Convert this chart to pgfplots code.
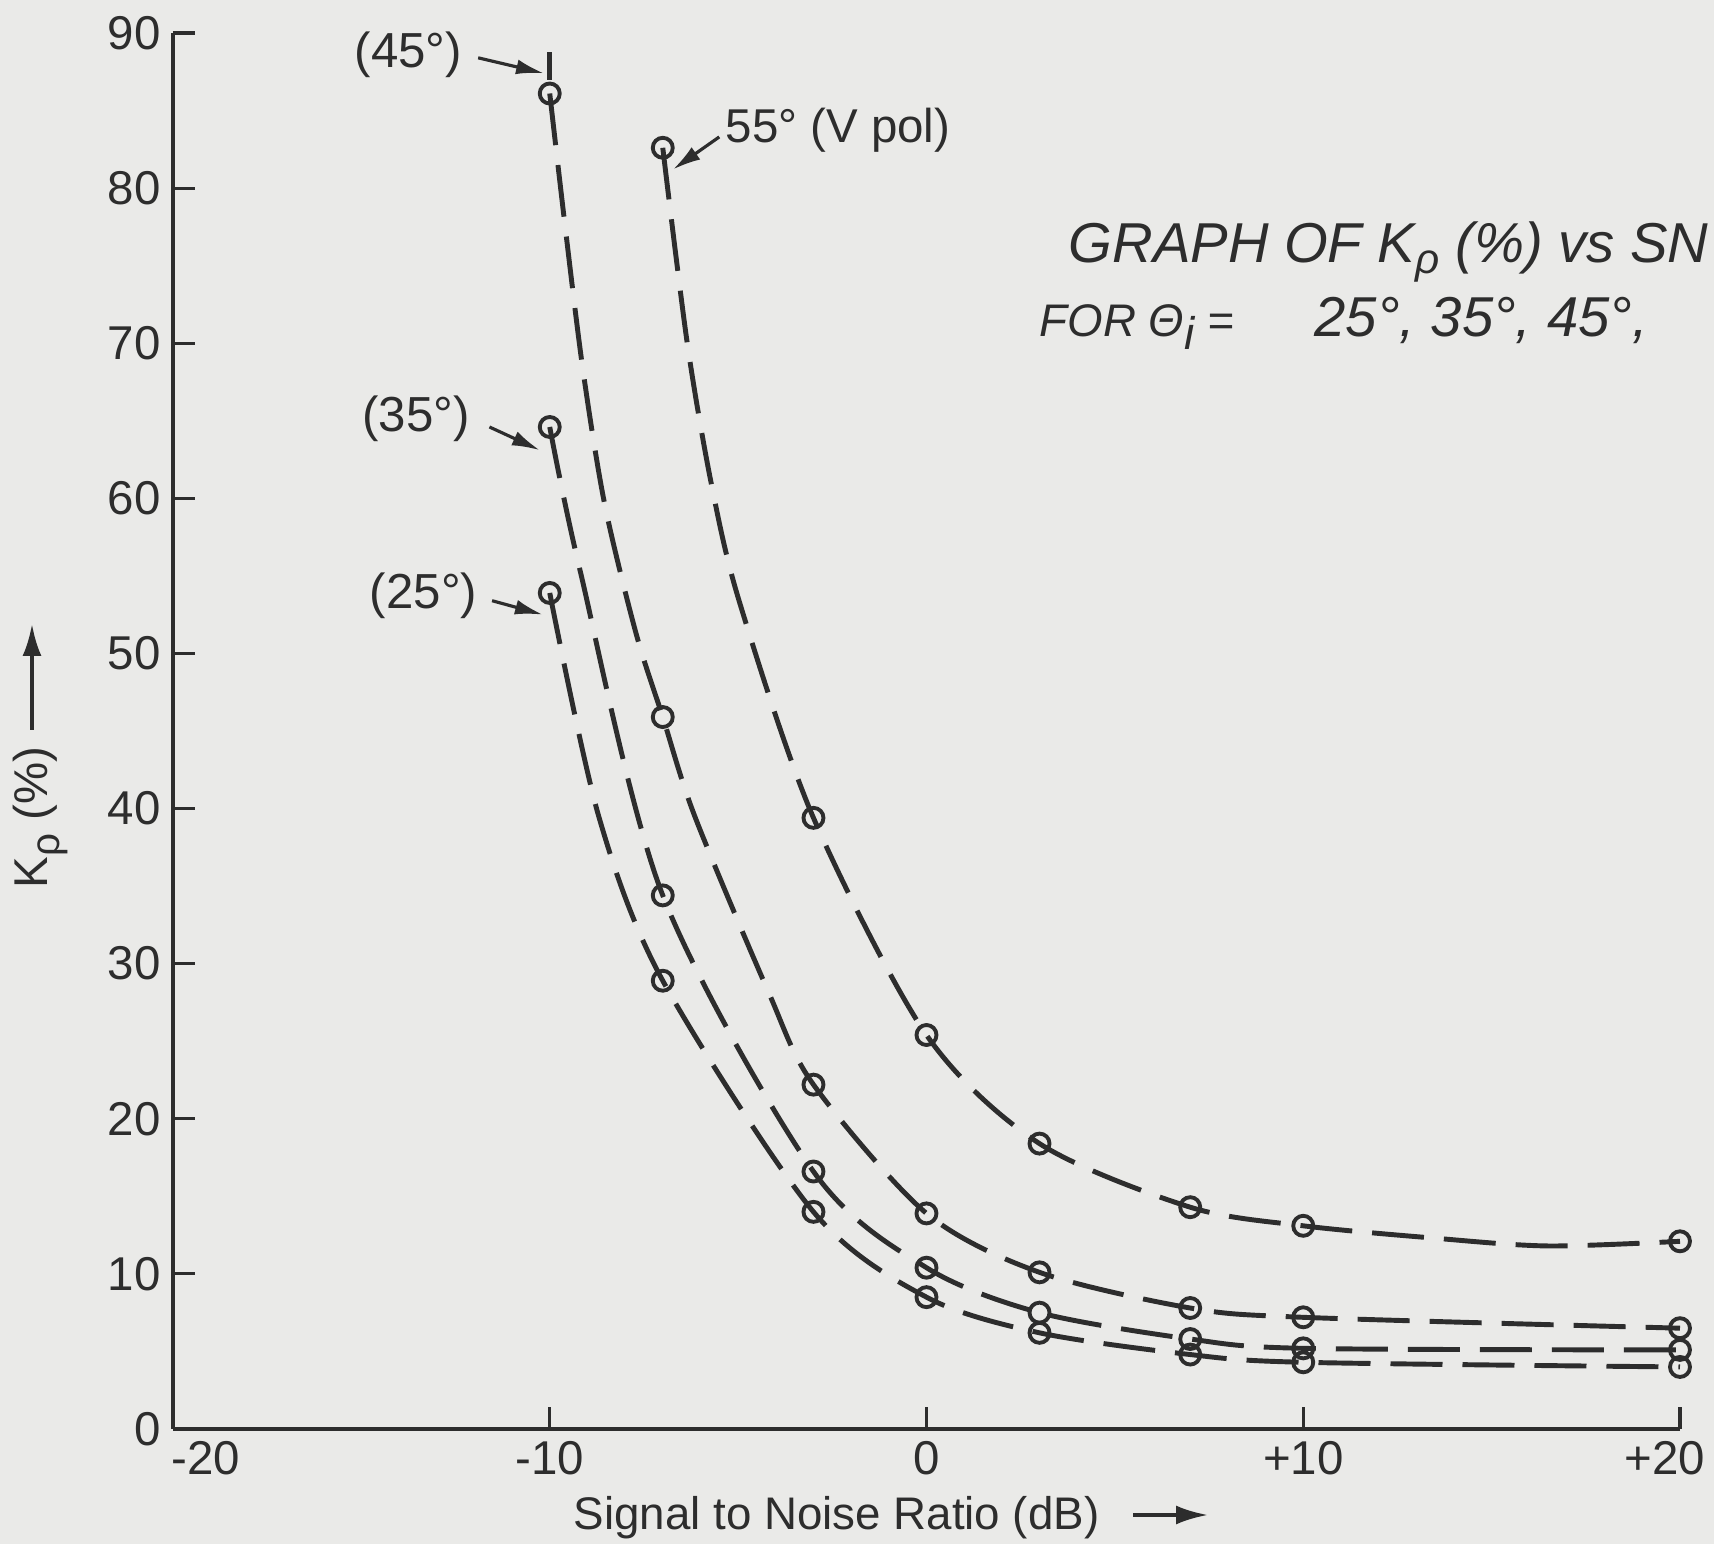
\documentclass[border=0pt]{standalone}
\usepackage{fontspec}
\setmainfont{Liberation Sans}
\usepackage{pgfplots}
\pgfplotsset{compat=1.18}
\usetikzlibrary{arrows.meta}
\definecolor{bg}{RGB}{234,234,232}
\definecolor{ink}{RGB}{45,45,45}
\newcommand{\fs}[1]{\fontsize{#1}{#1}\selectfont}
\begin{document}
\begin{tikzpicture}[x=1cm,y=1cm]
\fill[bg] (-1.73,-1.15) rectangle (15.41,14.29);
\begin{axis}[
  scale only axis, width=15.07cm, height=13.96cm,
  at={(0,0)}, anchor=south west,
  xmin=-20, xmax=20, ymin=0, ymax=90,
  axis lines=left,
  axis line style={-, line width=0.9pt, ink},
  xtick={-20,-10,0,10,20},
  xticklabels={{\hspace*{6.5mm}-20},-10,0,+10,{+20\hspace*{3mm}}},
  ytick={0,10,20,30,40,50,60,70,80,90},
  tick align=inside, major tick length=2.2mm,
  tick style={line width=0.9pt, ink},
  /pgf/number format/assume math mode=true,
  every tick label/.append style={font=\fs{13.5}, text=ink},
  clip=false,
  curve/.style={ink, line width=1.4pt, smooth, tension=0.5, dash pattern=on 5.2mm off 2mm, no markers},
  pts/.style={only marks, mark=o, mark size=1.0mm, mark options={ink, line width=1.1pt, fill=bg, solid}},
]
% 55 deg (V pol)
\addplot[curve] coordinates {(-7,82.6) (-6.35,70.0) (-5.7,60.8) (-4.95,53.2) (-3,39.4) (0,25.4) (3,18.4) (7,14.3) (10,13.1) (13.5,12.3) (16.5,11.8) (20,12.1)};
% 45 deg
\addplot[curve] coordinates {(-10,86.1) (-9.6,77.7) (-9.12,68.3) (-8.54,59.6) (-7.71,51.3) (-7,45.9) (-6.15,39.5) (-4.2,28.2) (-3,22.2) (0,13.9) (3,10.1) (7,7.8) (10,7.2) (20,6.5)};
\addplot[ink, line width=1.4pt, no markers] coordinates {(-10,87.0) (-10,88.8)};
% 35 deg
\addplot[curve] coordinates {(-10,64.6) (-9.2,55.4) (-7,34.4) (-3,16.6) (0,10.4) (3,7.5) (7,5.8) (10,5.2) (20,5.1)};
% 25 deg
\addplot[curve] coordinates {(-10,53.9) (-8.7,39.5) (-7,28.9) (-3,14.0) (0,8.5) (3,6.2) (7,4.8) (10,4.3) (20,4.0)};
% markers
\addplot[pts] coordinates {(-7,82.6) (-3,39.4) (0,25.4) (3,18.4) (7,14.3) (10,13.1) (20,12.1)};
\addplot[pts] coordinates {(-10,86.1) (-7,45.9) (-3,22.2) (0,13.9) (3,10.1) (7,7.8) (10,7.2) (20,6.5)};
\addplot[pts] coordinates {(-10,64.6) (-7,34.4) (-3,16.6) (0,10.4) (3,7.5) (7,5.8) (10,5.2) (20,5.1)};
\addplot[pts] coordinates {(-10,53.9) (-7,28.9) (-3,14.0) (0,8.5) (3,6.2) (7,4.8) (10,4.3) (20,4.0)};
% annotations
\node[text=ink, font=\fs{14}] at (axis cs:-13.75,88.6) {(45°)};
\draw[ink, line width=0.9pt, -{Latex[length=2.8mm,width=1.5mm]}] (axis cs:-11.9,88.4) -- (axis cs:-10.15,87.4);
\node[text=ink, font=\fs{13.5}, anchor=west, inner sep=0pt] at (axis cs:-5.35,83.7) {55° (V pol)};
\draw[ink, line width=0.9pt, -{Latex[length=2.8mm,width=1.5mm]}] (axis cs:-5.5,83.3) -- (axis cs:-6.73,81.2);
\node[text=ink, font=\fs{14}] at (axis cs:-13.55,65.1) {(35°)};
\draw[ink, line width=0.9pt, -{Latex[length=2.8mm,width=1.5mm]}] (axis cs:-11.6,64.6) -- (axis cs:-10.26,63.1);
\node[text=ink, font=\fs{14}] at (axis cs:-13.35,53.7) {(25°)};
\draw[ink, line width=0.9pt, -{Latex[length=2.8mm,width=1.5mm]}] (axis cs:-11.53,53.4) -- (axis cs:-10.18,52.5);
\end{axis}
% axis labels
\node[text=ink, font=\fs{13}, anchor=base west, inner sep=0pt] at (4.0,-1.01) {Signal to Noise Ratio (dB)};
\draw[ink, line width=1.1pt, -{Latex[length=3.2mm,width=1.9mm]}] (9.6,-0.86) -- (10.35,-0.86);
\node[text=ink, font=\fs{13.5}, rotate=90, anchor=base west, inner sep=0pt] at (-1.25,5.40) {K\raisebox{-0.45ex}{\fs{11.5}ρ} (\%)};
\draw[ink, line width=1.1pt, -{Latex[length=3.2mm,width=1.9mm]}] (-1.41,6.99) -- (-1.41,8.05);
% title
\node[text=ink, font=\fs{16}\itshape, anchor=base west, inner sep=0pt] at (8.95,11.66) {GRAPH OF K\raisebox{-0.35ex}{\fs{12}ρ} (\%) vs SN};
\node[text=ink, font=\fs{13}\itshape, anchor=base west, inner sep=0pt] at (8.66,10.92) {FOR Θ\raisebox{-0.5ex}{i} =};
\node[text=ink, font=\fs{16}\itshape, anchor=base west, inner sep=0pt] at (11.41,10.92) {25°, 35°, 45°,};
\pgfresetboundingbox
\path (-1.73,-1.15) rectangle (15.41,14.29);
\end{tikzpicture}
\end{document}
